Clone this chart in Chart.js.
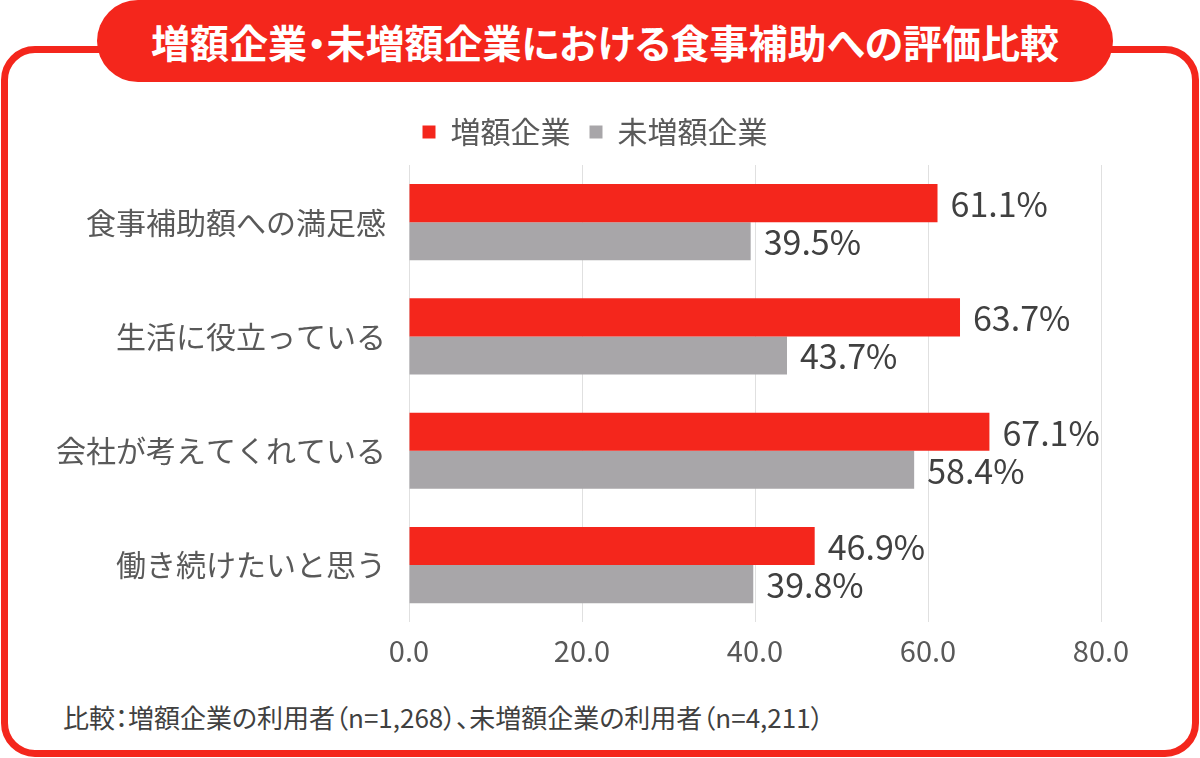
<!DOCTYPE html>
<html lang="ja">
<head>
<meta charset="utf-8">
<title>増額企業・未増額企業における食事補助への評価比較</title>
<script src="https://cdn.jsdelivr.net/npm/chart.js@4.4.1/dist/chart.umd.min.js"></script>
<style>
  html, body { margin: 0; padding: 0; background: #fff; }
  body { width: 1200px; height: 758px; position: relative; overflow: hidden;
         font-family: "Noto Sans CJK JP", "Noto Sans", sans-serif; }
  .frame { position: absolute; left: 1px; top: 46px; width: 1184px; height: 697px;
           border: 7px solid #f4261c; border-radius: 34px; }
  .title { position: absolute; left: 97px; top: 0; width: 1016px; height: 82px;
           background: #f4261c; border-radius: 41px; color: #fff;
           font-size: 39px; font-weight: bold; line-height: 82px; text-align: center;
           font-feature-settings: "palt"; }
  .note { position: absolute; left: 63px; top: 698px; font-size: 26px; color: #404040;
          font-feature-settings: "palt"; }
  #chartBox { position: absolute; left: 0; top: 0; width: 1200px; height: 758px; }
</style>
</head>
<body>
<div class="frame"></div>
<div class="title">増額企業・未増額企業における食事補助への評価比較</div>
<div class="note">比較：増額企業の利用者（n=1,268）、未増額企業の利用者（n=4,211）</div>
<div id="chartBox"><canvas id="chart"></canvas></div>

<script>
// data
const categories = ["食事補助額への満足感", "生活に役立っている", "会社が考えてくれている", "働き続けたいと思う"];
const seriesNames = ["増額企業", "未増額企業"];
const increased = [61.1, 63.7, 67.1, 46.9];
const notIncreased = [39.5, 43.7, 58.4, 39.8];
const xTicks = [0, 20, 40, 60, 80];

const RED = "#f4261c";
const GRAY = "#a8a6a9";
const FONT = '"Noto Sans CJK JP", "Noto Sans", sans-serif';

// value labels at the end of each bar
const valueLabels = {
  id: "valueLabels",
  afterDatasetsDraw(chart) {
    const ctx = chart.ctx;
    ctx.save();
    ctx.font = "34px " + FONT;
    ctx.fillStyle = "#404040";
    ctx.textAlign = "left";
    ctx.textBaseline = "middle";
    chart.data.datasets.forEach((ds, i) => {
      chart.getDatasetMeta(i).data.forEach((bar, j) => {
        ctx.fillText(ds.data[j].toFixed(1) + "%", bar.x + 13, bar.y + 1);
      });
    });
    ctx.restore();
  }
};

// a bit more room under the legend, and centre it over the page
const legendSpace = {
  id: "legendSpace",
  beforeInit(chart) {
    const fit = chart.legend.fit;
    chart.legend.fit = function () {
      fit.bind(chart.legend)();
      this.height += 8;
    };
  },
  afterLayout(chart) {
    chart.legend.left = 0;
    chart.legend.right = 1190;
  }
};

new Chart(document.getElementById("chart"), {
  type: "bar",
  data: {
    labels: categories,
    datasets: [
      { label: seriesNames[0], data: increased, backgroundColor: RED },
      { label: seriesNames[1], data: notIncreased, backgroundColor: GRAY }
    ]
  },
  options: {
    indexAxis: "y",
    responsive: true,
    maintainAspectRatio: false,
    animation: false,
    devicePixelRatio: 1,
    categoryPercentage: 0.667,
    barPercentage: 1,
    layout: { padding: { top: 98, right: 99, bottom: 79, left: 0 } },
    plugins: {
      tooltip: { enabled: false },
      legend: {
        position: "top",
        labels: {
          boxWidth: 13,
          boxHeight: 13,
          padding: 19,
          color: "#595959",
          font: { family: FONT, size: 30 }
        }
      }
    },
    scales: {
      x: {
        min: 0,
        max: 80,
        afterBuildTicks(scale) {
          scale.ticks = xTicks.map((v) => ({ value: v }));
        },
        ticks: {
          padding: 11,
          color: "#595959",
          font: { family: FONT, size: 29 },
          callback: (v) => Number(v).toFixed(1)
        },
        grid: { color: "#e0e0e0", drawTicks: false },
        border: { display: false }
      },
      y: {
        afterFit(scale) {
          scale.width = 409;
        },
        ticks: {
          padding: 15,
          color: "#595959",
          font: { family: FONT, size: 30 }
        },
        grid: { display: false },
        border: { display: false }
      }
    }
  },
  plugins: [valueLabels, legendSpace]
});
</script>
</body>
</html>
